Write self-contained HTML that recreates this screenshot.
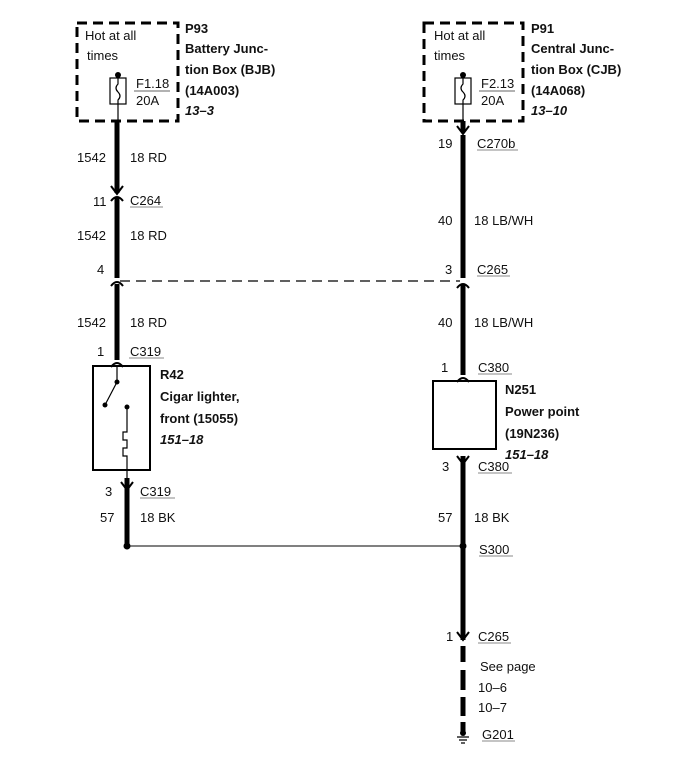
<!DOCTYPE html>
<html><head><meta charset="utf-8"><style>
body{margin:0;background:#fff}
svg{display:block}
text{font-family:"Liberation Sans",sans-serif;font-size:13px;fill:#111}
.b{font-weight:bold}
.bi{font-weight:bold;font-style:italic}
</style></head><body>
<svg width="700" height="766" viewBox="0 0 700 766">
<g fill="none" stroke="#000">
<!-- dashed boxes -->
<rect x="77" y="23" width="101" height="98" stroke-width="3" stroke-dasharray="10,6"/>
<rect x="424" y="23" width="99" height="98" stroke-width="3" stroke-dasharray="10,6"/>
<!-- fuses -->
<rect x="110" y="78" width="16" height="26" stroke-width="1.2"/>
<path d="M118 75 V84 q-4 4 0 8 q4 4 0 8 V121" stroke-width="1.2"/>
<rect x="455" y="78" width="16" height="26" stroke-width="1.2"/>
<path d="M463 75 V84 q-4 4 0 8 q4 4 0 8 V121" stroke-width="1.2"/>
<line x1="134" y1="91" x2="170" y2="91" stroke-width="1" stroke="#666"/>
<line x1="479" y1="91" x2="515" y2="91" stroke-width="1" stroke="#666"/>
<!-- left wire -->
<path d="M117 121 V193 M117 198 V278 M117 284 V360 M127 478 V546" stroke-width="5"/>
<path d="M111 186 L117 194 L123 186 M111 201 Q117 193 123 201 M111 286 Q117 278 123 286 M111 367 Q117 359 123 367 M121 482 L127 490 L133 482" stroke-width="2"/>
<!-- right wire -->
<path d="M463 121 V132 M463 135 V278 M463 284 V375 M463 456 V640 M463 646 V662 M463 670 V690 M463 697 V716 M463 722 V733" stroke-width="5"/>
<path d="M463 121 V134 M457 126 L463 134 L469 126 M457 288 Q463 280 469 288 M457 382 Q463 374 469 382 M457 456 L463 464 L469 456 M457 632 L463 640 L469 632" stroke-width="2"/>
<!-- dashed horizontal -->
<line x1="120" y1="281" x2="460" y2="281" stroke-width="1.3" stroke-dasharray="10,6"/>
<!-- boxes -->
<rect x="93" y="366" width="57" height="104" stroke-width="2"/>
<rect x="433" y="381" width="63" height="68" stroke-width="2"/>
<!-- lighter internals -->
<path d="M117 367 V382 L105 405 M127 407 V432 h-4 v8 h4 v8 h-4 v8 h4 V478" stroke-width="1.2"/>
<!-- splice line -->
<line x1="127" y1="546" x2="463" y2="546" stroke-width="1"/>
<!-- ground -->
<path d="M457 737 h12 M459 740 h8 M461 743 h4" stroke-width="1.2"/>
</g>
<g fill="#000">
<circle cx="118" cy="75" r="3"/><circle cx="463" cy="75" r="3"/>
<circle cx="117" cy="382" r="2.5"/><circle cx="105" cy="405" r="2.5"/><circle cx="127" cy="407" r="2.5"/>
<circle cx="127" cy="546" r="3.5"/><circle cx="463" cy="546" r="3.5"/>
<circle cx="463" cy="733" r="3"/>
</g>
<g stroke="#888" stroke-width="1">
<line x1="130" y1="207" x2="163" y2="207"/>
<line x1="129" y1="358" x2="164" y2="358"/>
<line x1="140" y1="498" x2="175" y2="498"/>
<line x1="477" y1="150" x2="518" y2="150"/>
<line x1="477" y1="276" x2="510" y2="276"/>
<line x1="478" y1="374" x2="512" y2="374"/>
<line x1="478" y1="473" x2="512" y2="473"/>
<line x1="479" y1="556" x2="513" y2="556"/>
<line x1="478" y1="643" x2="511" y2="643"/>
<line x1="482" y1="741" x2="515" y2="741"/>
</g>
<text x="85" y="40">Hot at all</text><text x="87" y="60">times</text>
<text x="136" y="88">F1.18</text><text x="136" y="105">20A</text>
<text class="b" x="185" y="33">P93</text>
<text class="b" x="185" y="53">Battery Junc-</text>
<text class="b" x="185" y="74">tion Box (BJB)</text>
<text class="b" x="185" y="95">(14A003)</text>
<text class="bi" x="185" y="115">13–3</text>
<text x="434" y="40">Hot at all</text><text x="434" y="60">times</text>
<text x="481" y="88">F2.13</text><text x="481" y="105">20A</text>
<text class="b" x="531" y="33">P91</text>
<text class="b" x="531" y="53">Central Junc-</text>
<text class="b" x="531" y="74">tion Box (CJB)</text>
<text class="b" x="531" y="95">(14A068)</text>
<text class="bi" x="531" y="115">13–10</text>
<text x="77" y="162">1542</text><text x="130" y="162">18 RD</text>
<text x="93" y="206">11</text><text x="130" y="205">C264</text>
<text x="77" y="240">1542</text><text x="130" y="240">18 RD</text>
<text x="97" y="274">4</text>
<text x="77" y="327">1542</text><text x="130" y="327">18 RD</text>
<text x="97" y="356">1</text><text x="130" y="356">C319</text>
<text class="b" x="160" y="379">R42</text>
<text class="b" x="160" y="401">Cigar lighter,</text>
<text class="b" x="160" y="423">front (15055)</text>
<text class="bi" x="160" y="444">151–18</text>
<text x="105" y="496">3</text><text x="140" y="496">C319</text>
<text x="100" y="522">57</text><text x="140" y="522">18 BK</text>
<text x="438" y="148">19</text><text x="477" y="148">C270b</text>
<text x="438" y="225">40</text><text x="474" y="225">18 LB/WH</text>
<text x="445" y="274">3</text><text x="477" y="274">C265</text>
<text x="438" y="327">40</text><text x="474" y="327">18 LB/WH</text>
<text x="441" y="372">1</text><text x="478" y="372">C380</text>
<text class="b" x="505" y="394">N251</text>
<text class="b" x="505" y="416">Power point</text>
<text class="b" x="505" y="438">(19N236)</text>
<text class="bi" x="505" y="459">151–18</text>
<text x="442" y="471">3</text><text x="478" y="471">C380</text>
<text x="438" y="522">57</text><text x="474" y="522">18 BK</text>
<text x="479" y="554">S300</text>
<text x="446" y="641">1</text><text x="478" y="641">C265</text>
<text x="480" y="671">See page</text>
<text x="478" y="692">10–6</text>
<text x="478" y="712">10–7</text>
<text x="482" y="739">G201</text>
</svg>
</body></html>
